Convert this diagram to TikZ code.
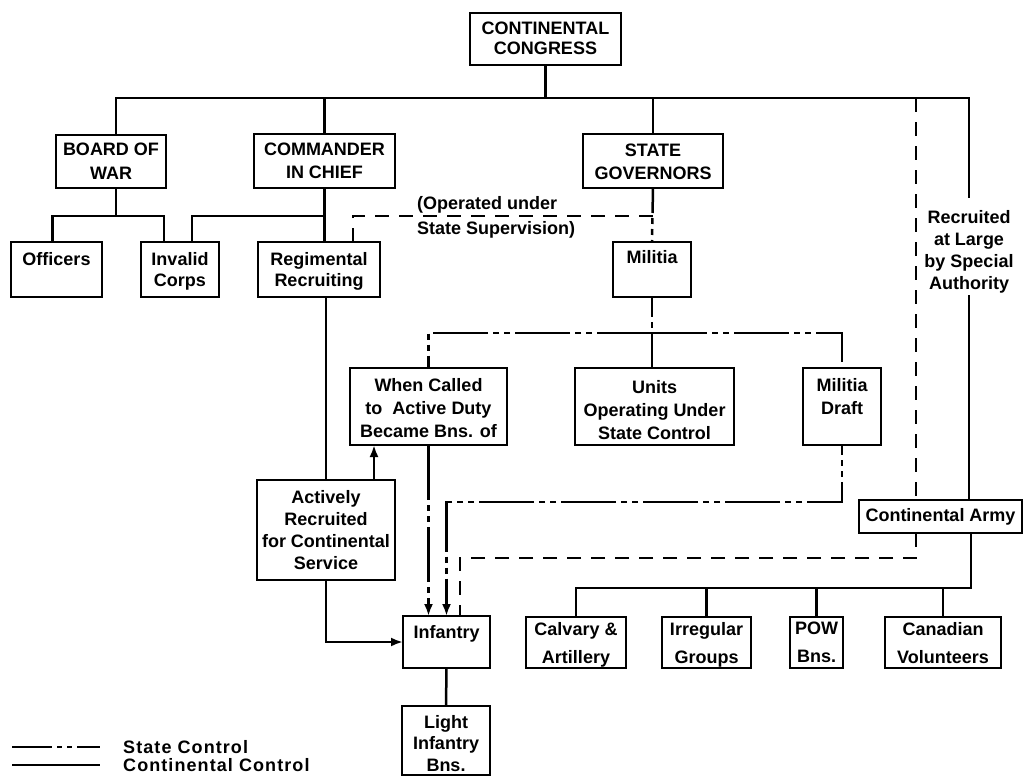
\documentclass[tikz,border=0pt]{standalone}
\usepackage{fontspec}
\setmainfont{Liberation Sans}
\usetikzlibrary{arrows.meta}
\newcommand\bx[7]{%
  \pgfmathsetmacro\myw{#4-#2}\pgfmathsetmacro\myh{#5-#3}%
  \node[box, minimum width=\myw pt, minimum height=\myh pt] (#1) at (#2,#3)
    {\parbox[c][\myh pt][t]{\myw pt}{\centering\vspace*{#6pt}#7}};}
\begin{document}
\begin{tikzpicture}[x=1pt,y=-1pt,
  lbl/.style={font=\fontsize{18}{23}\selectfont\bfseries},
  box/.style={lbl, draw, line width=2.5pt, inner sep=0pt, outer sep=0pt, anchor=north west, fill=white},
  cont/.style={line width=2.5pt},
  state/.style={line width=2.5pt, dash pattern=on 55pt off 5pt on 6pt off 5pt on 6pt off 5pt},
  supv/.style={line width=2.5pt, dash pattern=on 14pt off 10pt},
  legstate/.style={line width=2.5pt, dash pattern=on 40pt off 5pt on 5pt off 5pt on 5pt off 5pt},
  arr/.style={-{Latex[length=12pt,width=9pt]}}]
\fill[white] (0,0) rectangle (1024,776);
\useasboundingbox (0,0) rectangle (1024,776);

% boxes
\bx{cc}{470}{13}{621}{65}{9}{CONTINENTAL\\[-3pt]CONGRESS}
\bx{bw}{56}{135}{166}{188}{8}{BOARD OF\\[1pt]WAR}
\bx{cic}{254}{134}{395}{188}{9}{COMMANDER\\IN CHIEF}
\bx{sg}{583}{134}{723}{188}{10}{STATE\\GOVERNORS}
\bx{off}{11}{242}{102}{297}{10}{Officers}
\bx{ic}{141}{242}{219}{297}{10}{Invalid\\[-2pt]Corps}
\bx{rr}{258}{242}{380}{297}{10}{Regimental\\[-2pt]Recruiting}
\bx{mil}{613}{242}{691}{297}{8}{Militia}
\bx{wc}{350}{368}{507}{445}{10}{When Called\\to~ Active Duty\\Became Bns. of}
\bx{un}{575}{368}{734}{445}{12}{Units\\Operating Under\\State Control}
\bx{md}{803}{368}{881}{445}{10}{Militia\\Draft}
\bx{act}{257}{480}{395}{580}{10}{Actively\\[-1pt]Recruited\\[-1pt]for Continental\\[-1pt]Service}
\bx{ca}{859}{500}{1022}{533}{8}{Continental Army}
\bx{inf}{403}{616}{490}{668}{9}{Infantry}
\bx{cav}{526}{617}{626}{668}{5}{Calvary \&\\[5pt]Artillery}
\bx{irr}{662}{617}{751}{668}{5}{Irregular\\[5pt]Groups}
\bx{pow}{790}{617}{843}{668}{5}{POW\\[5pt]Bns.}
\bx{can}{885}{617}{1001}{668}{5}{Canadian\\[5pt]Volunteers}
\bx{li}{402}{706}{490}{775}{9}{Light\\[-2pt]Infantry\\[-1pt]Bns.}

% free texts
\node[lbl, align=center, inner sep=0pt, anchor=north] (ra) at (969,210)
  {Recruited\\[-1pt]at Large\\[-1pt]by Special\\[-1pt]Authority};
\node[lbl, align=left, inner sep=0pt, anchor=north west] (op) at (417,196)
  {(Operated under\\[2pt]State Supervision)};

% coordinates
\coordinate (busL) at (116,98);
\coordinate (busR) at (969,98);
\coordinate (sdT) at (916,98);
\coordinate (sdB) at (916,558);
\coordinate (bwJ) at (116,216);
\coordinate (mJ) at (652,333);
\coordinate (mdJ) at (842,502);
\coordinate (caJ) at (971,588);
\coordinate (actUp) at ([xshift=48]act.north);

% Continental Congress bus
\draw[cont] (cc.south) -- (cc.south |- busL);
\draw[cont] (bw.north -| busL) -- (busL) -- (busR) -- ([yshift=12]ra.north);
\draw[cont] (cic.north) -- (cic.north |- busL);
\draw[cont] (sg.north) -- (sg.north |- busL);
\draw[cont, line width=2pt] ([yshift=-2]ra.south) -- (ra.south |- ca.north);
\draw[supv] (sdT) -- (ca.north -| sdT);

% Board of War
\draw[cont] (bw.south -| bwJ) -- (bwJ);
\draw[cont] ([xshift=-4]off.north) |- (bwJ) -| ([xshift=-16]ic.north);

% Commander in Chief
\draw[cont] (cic.south) -- (cic.south |- rr.north);
\draw[cont] (cic.south |- bwJ) -| ([xshift=12]ic.north);
\draw[cont] (act.north |- rr.south) -- (act.north);
\draw[cont, arr] (actUp) -- (actUp |- wc.south);
\draw[cont, arr] (act.south) |- (inf.west);

% Operated under state supervision
\draw[supv] ([xshift=34]rr.north) |- (sg.south |- bwJ);

% State governors / militia
\draw[state, dash phase=30pt] (sg.south) -- (mil.north);
\draw[state, dash phase=35pt] (mil.south) -- (mJ);
\draw[state] (mJ) -| (wc.north);
\draw[state] (mJ) -| (md.north);
\draw[state, dash phase=20pt] (mJ) -- (mJ |- un.north);

% into Infantry
\draw[state, arr] (wc.south) -- (wc.south |- inf.north);
\draw[state, dash phase=45pt, arr] (md.south) -- (mdJ) -| (inf.north);
\draw[supv] (ca.south -| sdB) -- (sdB) -| ([xshift=13.5]inf.north);

% Continental Army children
\draw[cont] (ca.south -| caJ) -- (caJ) -| (cav.north);
\draw[cont] (irr.north |- caJ) -- (irr.north);
\draw[cont] (pow.north |- caJ) -- (pow.north);
\draw[cont] (can.north |- caJ) -- (can.north);
\draw[cont] (inf.south) -- (li.north);

% legend
\coordinate (lg1a) at (12,747);
\coordinate (lg1b) at (100,747);
\coordinate (lg2a) at (12,765);
\coordinate (lg2b) at (100,765);
\draw[legstate] (lg1a) -- (lg1b);
\draw[cont] (lg2a) -- (lg2b);
\node[lbl, inner sep=0pt, anchor=base west] (lgt1) at (123,753) {\addfontfeature{LetterSpace=6}State Control};
\node[lbl, inner sep=0pt, anchor=base west] (lgt2) at (123,771) {\addfontfeature{LetterSpace=6}Continental Control};
\end{tikzpicture}
\end{document}
